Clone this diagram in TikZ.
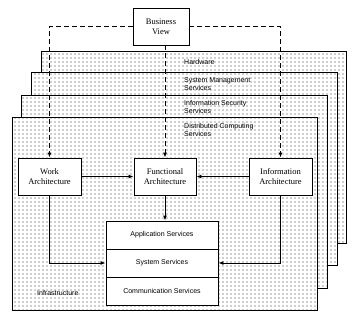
\documentclass[tikz,border=0pt]{standalone}
\usepackage{fontspec}
\setmainfont{Liberation Serif}
\newfontfamily\sansfont{Liberation Sans}
\usetikzlibrary{arrows.meta,patterns.meta}

\begin{document}
\begin{tikzpicture}[x=1pt,y=-1pt,>={Latex[length=5pt,width=4pt]},
  layer/.style={draw,line width=0.9pt,preaction={fill=white},
    pattern={Dots[distance=4pt,radius=0.6pt]},pattern color=black!80},
  layerlabel/.style={anchor=west,align=left,inner sep=0pt,
    font=\sansfont\fontsize{7}{8}\selectfont},
  archbox/.style={draw,line width=0.9pt,fill=white,align=center,
    minimum width=63pt,minimum height=37pt,inner sep=1pt,
    font=\fontsize{8.5}{9.5}\selectfont},
  svcbox/.style={draw,line width=0.9pt,fill=white,
    minimum width=112pt,minimum height=28pt,inner sep=1pt,
    font=\sansfont\fontsize{7}{8}\selectfont},
  viewlink/.style={->,dashed,dash pattern=on 5pt off 3pt,line width=0.9pt},
  archlink/.style={->,line width=0.9pt}]
  \useasboundingbox (0,0) rectangle (360,322);

  % service layers, back to front
  \draw[layer] (41,51) rectangle (346,243);
  \draw[layer] (31,72) rectangle (337,265);
  \draw[layer] (21,95) rectangle (327,288);
  \draw[layer] (12,117) rectangle (317,310);

  \node[layerlabel] (hw) at (184,62) {Hardware};
  \node[layerlabel] (sysmgmt) at (184,84) {System Management\\Services};
  \node[layerlabel] (infosec) at (184,107) {Information Security\\Services};
  \node[layerlabel] (distcomp) at (184,130) {Distributed Computing\\Services};
  \node[layerlabel] (infra) at (37,293) {Infrastructure};

  \node[archbox,minimum width=56pt] (bv) at (161,26.5) {Business\\View};
  \node[archbox] (work) at (49.5,176.5) {Work\\Architecture};
  \node[archbox,minimum width=62pt] (func) at (165,176.5) {Functional\\Architecture};
  \node[archbox] (info) at (280.5,176.5) {Information\\Architecture};

  \node[svcbox] (app) at (162,235) {Application Services};
  \node[svcbox] (sys) at (162,263) {System Services};
  \node[svcbox] (comm) at (162,291) {Communication Services};

  \draw[viewlink] (bv.west) -| (work.north);
  \draw[viewlink] (func.north |- bv.south) -- (func.north);
  \draw[viewlink] (bv.east) -| (info.north);

  \draw[archlink] (work) -- (func);
  \draw[archlink] (info) -- (func);
  \draw[archlink] (func.south) -- (func.south |- app.north);
  \draw[archlink] (work.south) |- (sys.west);
  \draw[archlink] (info.south) |- (sys.east);
\end{tikzpicture}
\end{document}
